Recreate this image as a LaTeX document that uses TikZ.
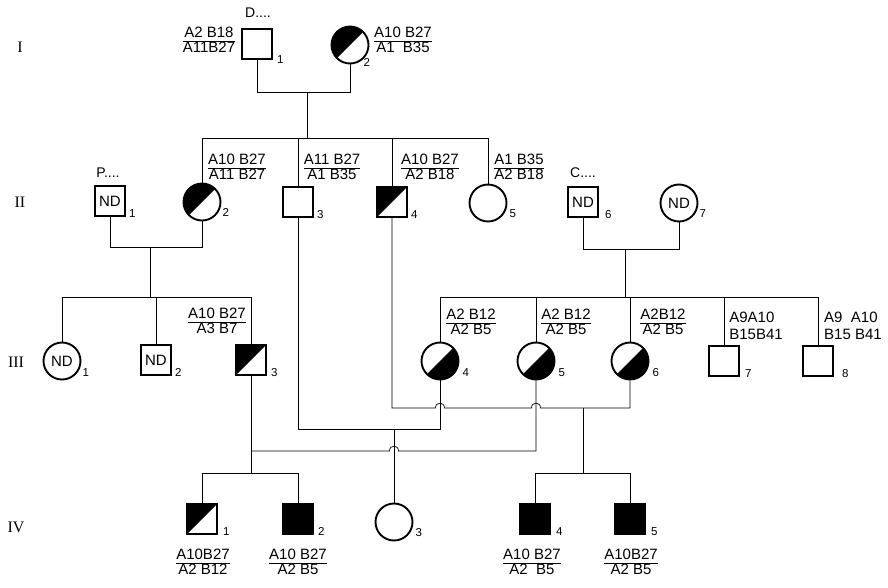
\documentclass[tikz,border=0pt]{standalone}
\usepackage{fontspec}
\setmainfont{Liberation Sans}
\newfontfamily\genfont{Liberation Serif}
\usetikzlibrary{calc}
\setlength{\arrayrulewidth}{0.9pt}
\newcommand{\hfr}[2]{\renewcommand{\arraystretch}{0.92}\begin{tabular}{@{}c@{}}#1\\[-1pt]\hline\noalign{\vskip0pt}#2\end{tabular}}
\tikzset{
  sq/.style={draw, rectangle, line width=1.9pt, minimum size=30pt, inner sep=0pt, font=\fontsize{15}{16}\selectfont},
  ci/.style={draw, circle, line width=1.9pt, minimum size=37pt, inner sep=0pt, font=\fontsize{15}{16}\selectfont},
  ul/.style={path picture={\fill (path picture bounding box.north west) -- (path picture bounding box.north east) -- (path picture bounding box.south west) -- cycle;}},
  lr/.style={path picture={\fill (path picture bounding box.north east) -- (path picture bounding box.south east) -- (path picture bounding box.south west) -- cycle;}},
  full/.style={fill=black},
  con/.style={line width=0.7pt, line join=miter},
  num/.style={inner sep=0pt, font=\fontsize{11.5}{12}\selectfont, anchor=south west},
  hla/.style={inner sep=0pt, font=\fontsize{15}{17}\selectfont},
  gen/.style={inner sep=0pt, font=\genfont\fontsize{16}{17}\selectfont},
  fam/.style={inner sep=0pt, font=\fontsize{14}{15}\selectfont}
}
\begin{document}
\begin{tikzpicture}[x=1pt,y=-1pt]
\fill[white] (0,0) rectangle (888,587);
\path[use as bounding box] (0,0) rectangle (888,587);

% generation labels
\node[gen] (gI) at (20,47) {I};
\node[gen] (gII) at (20,202) {II};
\node[gen] (gIII) at (16,362) {III};
\node[gen] (gIV) at (16,527) {IV};

% Generation I
\node[sq] (i1) at (257,44) {};
\node[ci,ul] (i2) at (350,45) {};
% Generation II
\node[sq] (ii1) at (110,201) {ND};
\node[ci,ul] (ii2) at (202,202) {};
\node[sq] (ii3) at (298,202) {};
\node[sq,ul] (ii4) at (392,202) {};
\node[ci] (ii5) at (488,203) {};
\node[sq] (ii6) at (583,202) {ND};
\node[ci] (ii7) at (679,203) {ND};
% Generation III
\node[ci] (iii1) at (62,361) {ND};
\node[sq] (iii2) at (156,360) {ND};
\node[sq,ul] (iii3) at (251,360) {};
\node[ci,lr] (iii4) at (440,361) {};
\node[ci,lr] (iii5) at (536,361) {};
\node[ci,lr] (iii6) at (630,361) {};
\node[sq] (iii7) at (724,361) {};
\node[sq] (iii8) at (818,361) {};
% Generation IV
\node[sq,ul] (iv1) at (202,519) {};
\node[sq,full] (iv2) at (298,519) {};
\node[ci] (iv3) at (394,522) {};
\node[sq,full] (iv4) at (535,519) {};
\node[sq,full] (iv5) at (630,519) {};

% numbers
\node[num] (n-i1) at ($(i1.south east)+(4,4)$) {1};
\node[num] (n-i2) at ($(i2.east)+(-6,22)$) {2};
\node[num] (n-ii1) at ($(ii1.south east)+(3,1)$) {1};
\node[num] (n-ii2) at ($(ii2.east)+(1,15)$) {2};
\node[num] (n-ii3) at ($(ii3.south east)+(3,1)$) {3};
\node[num] (n-ii4) at ($(ii4.south east)+(3,1)$) {4};
\node[num] (n-ii5) at ($(ii5.east)+(2,15)$) {5};
\node[num] (n-ii6) at ($(ii6.south east)+(6,1)$) {6};
\node[num] (n-ii7) at ($(ii7.east)+(1,15)$) {7};
\node[num] (n-iii1) at ($(iii1.east)+(1,16)$) {1};
\node[num] (n-iii2) at ($(iii2.south east)+(3,1)$) {2};
\node[num] (n-iii3) at ($(iii3.south east)+(4,1)$) {3};
\node[num] (n-iii4) at ($(iii4.east)+(3,16)$) {4};
\node[num] (n-iii5) at ($(iii5.east)+(3,16)$) {5};
\node[num] (n-iii6) at ($(iii6.east)+(3,16)$) {6};
\node[num] (n-iii7) at ($(iii7.south east)+(5,1)$) {7};
\node[num] (n-iii8) at ($(iii8.south east)+(8,1)$) {8};
\node[num] (n-iv1) at ($(iv1.south east)+(5,1)$) {1};
\node[num] (n-iv2) at ($(iv2.south east)+(4,1)$) {2};
\node[num] (n-iv3) at ($(iv3.east)+(2,15)$) {3};
\node[num] (n-iv4) at ($(iv4.south east)+(5,1)$) {4};
\node[num] (n-iv5) at ($(iv5.south east)+(5,1)$) {5};

% family names
\node[fam] (fD) at (258,13) {D....};
\node[fam] (fP) at (108,173) {P....};
\node[fam] (fC) at (583,173) {C....};

% HLA labels
\node[hla] (h-i1) at (209,42) {\hfr{A2 B18}{A11B27}};
\node[hla] (h-i2) at (403,42) {\hfr{A10 B27}{A1\ \ B35}};
\node[hla] (h-ii2) at (237,169) {\hfr{A10 B27}{A11 B27}};
\node[hla] (h-ii3) at (332,169) {\hfr{A11 B27}{A1 B35}};
\node[hla] (h-ii4) at (430,169) {\hfr{A10 B27}{A2 B18}};
\node[hla] (h-ii5) at (519,169) {\hfr{A1 B35}{A2 B18}};
\node[hla] (h-iii3) at (217,323) {\hfr{A10 B27}{A3 B7}};
\node[hla] (h-iii4) at (471,324) {\hfr{A2 B12}{A2 B5}};
\node[hla] (h-iii5) at (566,324) {\hfr{A2 B12}{A2 B5}};
\node[hla] (h-iii6) at (663,324) {\hfr{A2B12}{A2 B5}};
\node[hla, align=left] (h-iii7) at (756,326) {A9A10\\B15B41};
\node[hla, align=left] (h-iii8) at (853,326) {A9\ \ A10\\B15 B41};
\node[hla] (h-iv1) at (203,564) {\hfr{A10B27}{A2 B12}};
\node[hla] (h-iv2) at (298,564) {\hfr{A10 B27}{A2 B5}};
\node[hla] (h-iv4) at (532,564) {\hfr{A10 B27}{A2\ \ B5}};
\node[hla] (h-iv5) at (631,564) {\hfr{A10B27}{A2 B5}};

% helper coordinates (rows of lines)
\coordinate (yI) at (0,92);
\coordinate (dI) at (307,92);
\coordinate (sII) at (0,138);
\coordinate (yIIa) at (0,247);
\coordinate (dIIa) at (150,247);
\coordinate (yIIb) at (0,249);
\coordinate (dIIb) at (625,249);
\coordinate (sIII) at (0,297);
\coordinate (y408) at (0,408);
\coordinate (d408) at (583,408);
\coordinate (y429) at (0,429);
\coordinate (y451) at (0,451);
\coordinate (sIV) at (0,473);

% Generation I mating and sibship
\draw[con] (i1.south) -- (i1.south |- yI) -| (i2.south);
\draw[con] (dI) -- (dI |- sII);
\draw[con] (ii2.north) -- (ii2.north |- sII) -| (ii5.north);
\draw[con] (ii3.north) -- (ii3.north |- sII);
\draw[con] (ii4.north) -- (ii4.north |- sII);

% II-1 x II-2
\draw[con] (ii1.south) -- (ii1.south |- yIIa) -| (ii2.south);
\draw[con] (dIIa) -- (dIIa |- sIII);
\draw[con] (iii1.north) -- (iii1.north |- sIII) -| (iii3.north);
\draw[con] (iii2.north) -- (iii2.north |- sIII);

% II-6 x II-7
\draw[con] (ii6.south) -- (ii6.south |- yIIb) -| (ii7.south);
\draw[con] (dIIb) -- (dIIb |- sIII);
\draw[con] (iii4.north) -- (iii4.north |- sIII) -| (iii8.north);
\draw[con] (iii5.north) -- (iii5.north |- sIII);
\draw[con] (iii6.north) -- (iii6.north |- sIII);
\draw[con] (iii7.north) -- (iii7.north |- sIII);

% II-3 x III-4
\draw[con] (ii3.south) -- (ii3.south |- y429) -- (iii4.south |- y429) -- (iii4.south);
\draw[con] (iv3.north |- y429) -- (iv3.north);

% II-4 x III-6 (hops over III-4 and III-5)
\draw[con] (ii4.south) -- (ii4.south |- y408)
  -- ($(iii4.south |- y408)+(-4.5,0)$) .. controls +(0,-6.5) and +(0,-6.5) .. ($(iii4.south |- y408)+(4.5,0)$)
  -- ($(iii5.south |- y408)+(-4.5,0)$) .. controls +(0,-6.5) and +(0,-6.5) .. ($(iii5.south |- y408)+(4.5,0)$)
  -- (iii6.south |- y408) -- (iii6.south);
\draw[con] (d408) -- (d408 |- sIV);
\draw[con] (iv4.north) -- (iv4.north |- sIV) -| (iv5.north);

% III-3 x III-5 (hop over IV-3 line)
\draw[con] (iii3.south) -- (iii3.south |- sIV);
\draw[con] (iii3.south |- y451)
  -- ($(iv3.north |- y451)+(-4.5,0)$) .. controls +(0,-6.5) and +(0,-6.5) .. ($(iv3.north |- y451)+(4.5,0)$)
  -- (iii5.south |- y451) -- (iii5.south);
\draw[con] (iv1.north) -- (iv1.north |- sIV) -| (iv2.north);
\end{tikzpicture}
\end{document}
